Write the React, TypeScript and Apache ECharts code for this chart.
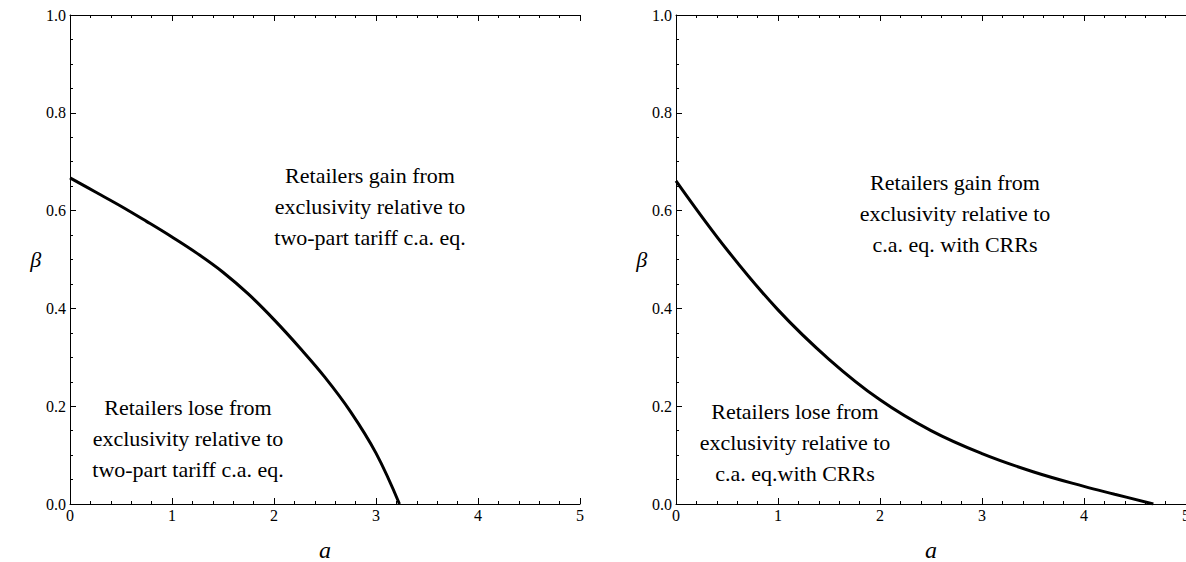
import React, { useEffect, useRef } from "react";
import * as echarts from "echarts";

// Left panel: boundary vs two-part tariff c.a. eq.
const leftA = [0, 0.25, 0.5, 0.75, 1, 1.25, 1.5, 1.75, 2, 2.25, 2.5, 2.75, 3, 3.23];
const leftBeta = [0.667, 0.638, 0.609, 0.578, 0.546, 0.512, 0.474, 0.429, 0.377, 0.32, 0.259, 0.189, 0.104, 0];

// Right panel: boundary vs c.a. eq. with CRRs
const rightA = [0, 0.5, 1, 1.5, 2, 2.5, 3, 3.5, 4, 4.3, 4.68];
const rightBeta = [0.661, 0.52, 0.397, 0.296, 0.213, 0.15, 0.103, 0.066, 0.036, 0.02, 0];

const xName = "a";
const yName = "β";
const leftGain = ["Retailers gain from", "exclusivity relative to", "two-part tariff c.a. eq."];
const leftLose = ["Retailers lose from", "exclusivity relative to", "two-part tariff c.a. eq."];
const rightGain = ["Retailers gain from", "exclusivity relative to", "c.a. eq. with CRRs"];
const rightLose = ["Retailers lose from", "exclusivity relative to", "c.a. eq.with CRRs"];

const FONT = "Liberation Serif";

export default function App() {
  const ref = useRef<HTMLDivElement>(null);
  useEffect(() => {
    if (!ref.current) return;
    const chart = echarts.init(ref.current, undefined, { renderer: "svg" });
    const axisLine = { show: true, lineStyle: { color: "#000", width: 1 } };
    const mkX = (gridIndex: number, position: "bottom" | "top") => ({
      type: "value" as const,
      gridIndex,
      position,
      min: 0,
      max: 5,
      interval: 1,
      axisLine,
      splitLine: { show: false },
      axisTick: { show: true, inside: true, length: 6, lineStyle: { color: "#000" } },
      minorTick: { show: true, splitNumber: 5, length: 3, lineStyle: { color: "#000" } },
      axisLabel: {
        show: position === "bottom",
        fontFamily: FONT,
        fontSize: 16,
        color: "#000",
        margin: 3,
      },
      name: position === "bottom" ? xName : "",
      nameLocation: "middle" as const,
      nameGap: 34,
      nameTextStyle: { fontFamily: FONT, fontSize: 24, fontStyle: "italic", color: "#000" },
    });
    const mkY = (gridIndex: number) => ({
      type: "value" as const,
      gridIndex,
      min: 0,
      max: 1,
      interval: 0.2,
      axisLine,
      splitLine: { show: false },
      axisTick: { show: true, inside: true, length: 6, lineStyle: { color: "#000" } },
      minorTick: { show: true, splitNumber: 4, length: 3, lineStyle: { color: "#000" } },
      axisLabel: {
        fontFamily: FONT,
        fontSize: 16,
        color: "#000",
        margin: 4,
        formatter: (v: number) => v.toFixed(1),
      },
      name: yName,
      nameLocation: "middle" as const,
      nameRotate: 0,
      nameGap: 28,
      nameTextStyle: { fontFamily: FONT, fontSize: 22, fontStyle: "italic", color: "#000" },
    });
    const textBlock = (lines: string[], cx: number, y0: number) =>
      lines.map((t, i) => ({
        type: "text" as const,
        x: cx,
        y: y0 + i * 31,
        style: {
          text: t,
          fontFamily: FONT,
          fontSize: 22,
          fill: "#000",
          align: "center" as const,
          verticalAlign: "middle" as const,
        },
      }));
    const lineSeries = (xi: number, yi: number, xs: number[], ys: number[]) => ({
      type: "line" as const,
      xAxisIndex: xi,
      yAxisIndex: yi,
      data: xs.map((a, i) => [a, ys[i]]),
      smooth: 0.4,
      showSymbol: false,
      lineStyle: { color: "#000", width: 3 },
    });
    chart.setOption({
      animation: false,
      grid: [
        { left: 70, width: 510, top: 15, bottom: 58, containLabel: false, outerBoundsMode: "none" },
        { left: 676, width: 510, top: 15, bottom: 58, containLabel: false, outerBoundsMode: "none" },
      ],
      xAxis: [mkX(0, "bottom"), mkX(0, "top"), mkX(1, "bottom"), mkX(1, "top")],
      yAxis: [mkY(0), mkY(1)],
      series: [lineSeries(0, 0, leftA, leftBeta), lineSeries(2, 1, rightA, rightBeta)],
      graphic: [
        ...textBlock(leftGain, 370, 175),
        ...textBlock(leftLose, 188, 407),
        ...textBlock(rightGain, 955, 182),
        ...textBlock(rightLose, 795, 411),
      ],
    });
    return () => chart.dispose();
  }, []);
  return <div ref={ref} style={{ width: 1186, height: 562, position: "absolute", left: 0, top: 0 }} />;
}
